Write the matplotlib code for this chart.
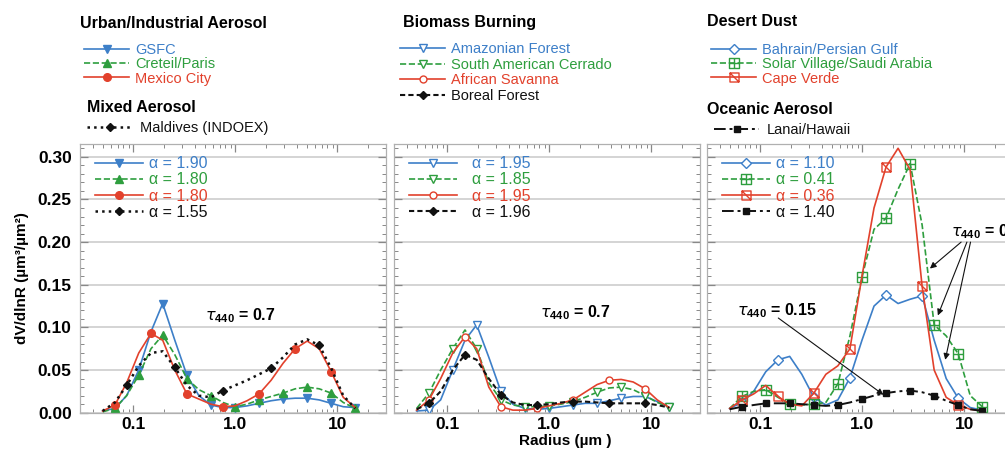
import matplotlib
matplotlib.use('Agg')
import matplotlib.pyplot as plt
from matplotlib.lines import Line2D
from matplotlib.path import Path
from matplotlib.ticker import MultipleLocator, FixedLocator, NullFormatter

plt.rcParams['font.family'] = ['Liberation Sans', 'DejaVu Sans']
plt.rcParams['mathtext.fontset'] = 'custom'
plt.rcParams['mathtext.rm'] = 'Liberation Sans'
plt.rcParams['mathtext.bf'] = 'Liberation Sans:bold'

# AERONET size bins (um)
radius = [0.050, 0.066, 0.086, 0.113, 0.149, 0.194, 0.255, 0.335, 0.439, 0.576, 0.756,
          0.992, 1.302, 1.708, 2.241, 2.940, 3.857, 5.061, 6.641, 8.713, 11.43, 15.0]

# urban / industrial + mixed
gsfc = [0.002, 0.005, 0.020, 0.050, 0.095, 0.128, 0.085, 0.044, 0.020, 0.009, 0.006,
        0.006, 0.008, 0.011, 0.014, 0.016, 0.017, 0.017, 0.015, 0.011, 0.007, 0.006]
creteil = [0.001, 0.005, 0.020, 0.044, 0.075, 0.091, 0.068, 0.040, 0.027, 0.020, 0.012,
           0.007, 0.010, 0.015, 0.019, 0.023, 0.028, 0.030, 0.028, 0.023, 0.012, 0.005]
mexico = [0.002, 0.009, 0.035, 0.070, 0.093, 0.085, 0.050, 0.022, 0.016, 0.010, 0.007,
          0.008, 0.014, 0.022, 0.038, 0.058, 0.075, 0.084, 0.075, 0.048, 0.018, 0.006]
maldives = [0.002, 0.012, 0.032, 0.055, 0.070, 0.072, 0.053, 0.032, 0.020, 0.018, 0.026,
            0.032, 0.038, 0.045, 0.052, 0.065, 0.080, 0.086, 0.079, 0.052, 0.020, 0.005]

# biomass burning
amazon = [0.002, 0.003, 0.015, 0.050, 0.085, 0.103, 0.065, 0.025, 0.010, 0.005, 0.004,
          0.005, 0.007, 0.009, 0.011, 0.011, 0.014, 0.017, 0.019, 0.019, 0.013, 0.007]
cerrado = [0.005, 0.023, 0.050, 0.075, 0.097, 0.075, 0.035, 0.015, 0.009, 0.007, 0.007,
           0.008, 0.010, 0.013, 0.018, 0.024, 0.029, 0.030, 0.027, 0.020, 0.012, 0.007]
savanna = [0.003, 0.015, 0.040, 0.070, 0.089, 0.075, 0.030, 0.007, 0.003, 0.003, 0.005,
           0.008, 0.011, 0.015, 0.024, 0.033, 0.038, 0.039, 0.036, 0.028, 0.015, 0.006]
boreal = [0.004, 0.011, 0.025, 0.050, 0.068, 0.062, 0.040, 0.021, 0.012, 0.009, 0.009,
          0.010, 0.012, 0.013, 0.013, 0.012, 0.011, 0.011, 0.011, 0.011, 0.009, 0.006]

# desert dust + oceanic
bahrain = [0.005, 0.012, 0.025, 0.048, 0.062, 0.066, 0.045, 0.018, 0.009, 0.015, 0.041,
           0.085, 0.125, 0.138, 0.128, 0.133, 0.137, 0.085, 0.040, 0.017, 0.006, 0.003]
solar = [0.005, 0.019, 0.025, 0.027, 0.018, 0.010, 0.009, 0.010, 0.012, 0.034, 0.090,
         0.159, 0.215, 0.228, 0.262, 0.292, 0.220, 0.103, 0.090, 0.069, 0.020, 0.007]
capeverde = [0.005, 0.015, 0.022, 0.032, 0.019, 0.010, 0.008, 0.023, 0.045, 0.055, 0.075,
             0.160, 0.240, 0.288, 0.310, 0.285, 0.148, 0.050, 0.018, 0.009, 0.004, 0.002]
lanai = [0.004, 0.007, 0.009, 0.011, 0.011, 0.011, 0.010, 0.009, 0.008, 0.009, 0.012,
         0.016, 0.020, 0.023, 0.025, 0.026, 0.024, 0.020, 0.014, 0.009, 0.004, 0.002]

alpha_urban = ['1.90', '1.80', '1.80', '1.55']
alpha_biomass = ['1.95', '1.85', '1.95', '1.96']
alpha_dust = ['1.10', '0.41', '0.36', '1.40']

BLUE = '#3d7fc8'
GREEN = '#2e9e3e'
RED = '#e2412c'
BLACK = '#111111'

boxplus = Path([(-1, -1), (1, -1), (1, 1), (-1, 1), (-1, -1), (0, -1), (0, 1), (-1, 0), (1, 0)],
               [Path.MOVETO, Path.LINETO, Path.LINETO, Path.LINETO, Path.CLOSEPOLY,
                Path.MOVETO, Path.LINETO, Path.MOVETO, Path.LINETO])
boxdiag = Path([(-1, -1), (1, -1), (1, 1), (-1, 1), (-1, -1), (-1, 1), (1, -1)],
               [Path.MOVETO, Path.LINETO, Path.LINETO, Path.LINETO, Path.CLOSEPOLY,
                Path.MOVETO, Path.LINETO])

odd = slice(1, None, 2)
third = slice(1, None, 3)

panels = [
    [(gsfc, 'GSFC', dict(color=BLUE, ls='-', marker='v', mfc=BLUE, ms=6), odd),
     (creteil, 'Creteil/Paris', dict(color=GREEN, ls='--', marker='^', mfc=GREEN, ms=6), odd),
     (mexico, 'Mexico City', dict(color=RED, ls='-', marker='o', mfc=RED, ms=5.5), third),
     (maldives, 'Maldives (INDOEX)', dict(color=BLACK, ls=':', lw=1.8, marker='D', mfc=BLACK, ms=4.5), slice(2, None, 4))],
    [(amazon, 'Amazonian Forest', dict(color=BLUE, ls='-', marker='v', mfc='white', ms=6), odd),
     (cerrado, 'South American Cerrado', dict(color=GREEN, ls='--', marker='v', mfc='white', ms=6), odd),
     (savanna, 'African Savanna', dict(color=RED, ls='-', marker='o', mfc='white', ms=5), third),
     (boreal, 'Boreal Forest', dict(color=BLACK, ls=(0, (2.5, 1.5)), lw=1.5, marker='D', mfc=BLACK, ms=4.5), third)],
    [(bahrain, 'Bahrain/Persian Gulf', dict(color=BLUE, ls='-', marker='D', mfc='white', ms=5), third),
     (solar, 'Solar Village/Saudi Arabia', dict(color=GREEN, ls='--', marker=boxplus, mfc='none', ms=6.5), odd),
     (capeverde, 'Cape Verde', dict(color=RED, ls='-', marker=boxdiag, mfc='none', ms=6.5), third),
     (lanai, 'Lanai/Hawaii', dict(color=BLACK, ls=(0, (6, 2, 1.5, 2)), lw=1.4, marker='s', mfc=BLACK, ms=4), odd)],
]
alphas = [alpha_urban, alpha_biomass, alpha_dust]

W, H = 1005, 451
fig = plt.figure(figsize=(W / 100, H / 100), dpi=100)

lefts = [80, 394, 707]
axes = []
for k, left in enumerate(lefts):
    ax = fig.add_axes([left / W, 1 - 412.7 / H, 306 / W, 268.7 / H])
    axes.append(ax)
    ax.set_xscale('log')
    ax.set_xlim(0.03, 30)
    ax.set_ylim(0, 0.315)
    ax.yaxis.set_major_locator(MultipleLocator(0.05))
    ax.yaxis.set_minor_locator(MultipleLocator(0.01))
    ax.grid(axis='y', which='major', color='#c9c9c9', lw=1.1)
    ax.set_axisbelow(True)
    ax.xaxis.set_major_locator(FixedLocator([0.1, 1.0, 10.0]))
    ax.set_xticklabels(['0.1', '1.0', '10'])
    ax.xaxis.set_minor_formatter(NullFormatter())
    for s in ax.spines.values():
        s.set_color('#b0b0b0')
        s.set_linewidth(0.9)
    ax.tick_params(which='both', direction='in', top=True, right=True, color='#888888')
    ax.tick_params(which='major', length=6, width=0.9)
    ax.tick_params(which='minor', length=3, width=0.7)
    ax.tick_params(axis='x', labelsize=12.5, pad=3)
    ax.tick_params(axis='y', labelsize=12.5, pad=6)
    for lab in ax.get_xticklabels() + ax.get_yticklabels():
        lab.set_fontweight('bold')
    if k > 0:
        ax.set_yticklabels([])

    handles = []
    for vals, name, st, mev in panels[k]:
        lw = st.get('lw', 1.2)
        ax.plot(radius, vals, color=st['color'], ls=st['ls'], lw=lw, marker=st['marker'],
                mfc=st['mfc'], mec=st['color'], ms=st['ms'], mew=1.0, markevery=mev)
        handles.append(Line2D([], [], color=st['color'], ls=st['ls'], lw=lw, marker=st['marker'],
                              mfc=st['mfc'], mec=st['color'], ms=st['ms'], mew=1.0))
    colors = [BLUE, GREEN, RED, BLACK]
    pad = 0.9 if k == 1 else 0.35
    ax.legend(handles, ['α = ' + a for a in alphas[k]], loc='upper left',
              bbox_to_anchor=(0.05, 0.955), frameon=False, fontsize=11.5,
              handlelength=3.0, handletextpad=pad, labelspacing=0.08,
              borderpad=0, borderaxespad=0, labelcolor=colors)

    # legends above the panels
    names = [p[1] for p in panels[k]]
    if k == 1:
        fig.legend(handles, names, loc='upper left', bbox_to_anchor=(400 / W, 1 - 42 / H),
                   frameon=False, fontsize=10.5, handlelength=3.1, handletextpad=0.4,
                   labelspacing=0.12, borderpad=0, borderaxespad=0, labelcolor=colors)
    else:
        fig.legend(handles[:3], names[:3], loc='upper left',
                   bbox_to_anchor=((lefts[k] + 4) / W, 1 - 43 / H),
                   frameon=False, fontsize=10.5, handlelength=3.1, handletextpad=0.4,
                   labelspacing=0.02, borderpad=0, borderaxespad=0, labelcolor=colors[:3])
        fig.legend(handles[3:], names[3:], loc='upper left',
                   bbox_to_anchor=((lefts[k] + 7) / W, 1 - (121 if k == 0 else 123) / H),
                   frameon=False, fontsize=10.5, handlelength=3.1, handletextpad=0.5,
                   borderpad=0, borderaxespad=0, labelcolor=BLACK)

titles = [('Urban/Industrial Aerosol', 80, 23), ('Mixed Aerosol', 87, 107),
          ('Biomass Burning', 403, 22), ('Desert Dust', 707, 22), ('Oceanic Aerosol', 707, 110)]
for txt, x, y in titles:
    fig.text(x / W, 1 - y / H, txt, fontsize=11.5, fontweight='bold', va='center', ha='left')

fig.text(22 / W, 1 - 278 / H, 'dV/dlnR (µm³/µm²)', rotation=90, fontsize=11,
         fontweight='bold', va='center', ha='center')
fig.text(565 / W, 1 - 441 / H, 'Radius (µm )', fontsize=11, fontweight='bold',
         va='center', ha='center')

tau = r'$\tau_{\mathbf{440}}$ = '
axes[0].text(1.12, 0.114, tau + '0.7', fontsize=11.5, fontweight='bold', ha='center', va='center')
axes[1].text(1.8, 0.117, tau + '0.7', fontsize=11.5, fontweight='bold', ha='center', va='center')

ax3 = axes[2]
ax3.text(0.145, 0.120, tau + '0.15', fontsize=11.5, fontweight='bold', ha='center', va='center')
arrow = dict(arrowstyle='-|>', color=BLACK, lw=0.8, mutation_scale=9, shrinkA=0, shrinkB=0)
ax3.annotate('', xy=(1.61, 0.021), xytext=(0.15, 0.111), arrowprops=arrow)
ax3.text(7.4, 0.212, tau + '0.7', fontsize=11.5, fontweight='bold', ha='left', va='center',
         clip_on=False)
for tx, tip in [((9.3, 0.2), (4.6, 0.169)), ((10.6, 0.2), (5.5, 0.114)),
                ((11.5, 0.2), (6.5, 0.062))]:
    ax3.annotate('', xy=tip, xytext=tx, arrowprops=arrow)

fig.savefig('out.png', dpi=100)
